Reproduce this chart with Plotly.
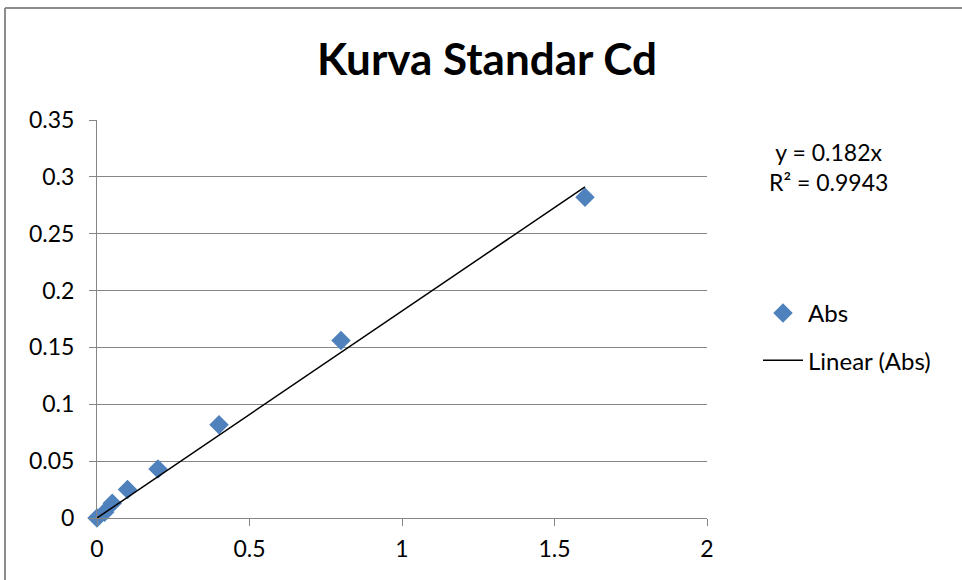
import plotly.graph_objects as go

conc = [0, 0.025, 0.05, 0.1, 0.2, 0.4, 0.8, 1.6]
absorb = [0, 0.005, 0.013, 0.025, 0.043, 0.082, 0.156, 0.282]
slope = 0.182
fit_x = [0, 1.6]
fit_y = [slope * v for v in fit_x]
x_ticks = [0, 0.5, 1, 1.5, 2]
x_labels = ["0", "0.5", "1", "1.5", "2"]
y_ticks = [0, 0.05, 0.1, 0.15, 0.2, 0.25, 0.3, 0.35]
y_labels = ["0", "0.05", "0.1", "0.15", "0.2", "0.25", "0.3", "0.35"]

FONT = "Lato, Carlito, 'Liberation Sans', sans-serif"
GRID = "#868686"

fig = go.Figure()
fig.add_trace(go.Scatter(
    x=conc, y=absorb, mode="markers", name="Abs", legendgroup="a",
    marker=dict(symbol="diamond", size=15, color="#4F81BD"),
    cliponaxis=False,
))
fig.add_trace(go.Scatter(
    x=fit_x, y=fit_y, mode="lines", name="Linear (Abs)", legendgroup="b",
    line=dict(color="black", width=1.5),
))

fig.update_layout(
    width=962, height=580,
    margin=dict(l=97, r=255, t=120, b=62, autoexpand=False),
    paper_bgcolor="white", plot_bgcolor="white",
    font=dict(family=FONT, size=23, color="black"),
    title=dict(text="<b>Kurva Standar Cd</b>", x=487 / 962, xanchor="center",
               y=1 - 60 / 580, yanchor="middle",
               font=dict(size=44, family=FONT, color="black")),
    xaxis=dict(range=[0, 2], tickvals=x_ticks, ticktext=x_labels,
               showgrid=False, zeroline=False, showline=True,
               linecolor=GRID, linewidth=1, ticks="outside", ticklen=7,
               tickcolor=GRID, tickfont=dict(size=23), ticklabelstandoff=3),
    yaxis=dict(range=[0, 0.35], tickvals=y_ticks, ticktext=y_labels,
               showgrid=True, gridcolor=GRID, gridwidth=1, zeroline=False,
               showline=True, linecolor=GRID, linewidth=1, ticks="outside",
               ticklen=7, tickcolor=GRID, tickfont=dict(size=23),
               ticklabelstandoff=10),
    legend=dict(x=(758 - 97) / 610, xref="paper", y=(518 - 291) / 398, yref="paper",
                xanchor="left", yanchor="top", font=dict(size=24),
                bgcolor="rgba(0,0,0,0)", tracegroupgap=13, itemwidth=40),
    showlegend=True,
)

fig.add_annotation(text="y = 0.182x<br>R² = 0.9943", xref="paper", yref="paper",
                   x=(828 - 97) / 610, y=(518 - 167) / 398, xanchor="center",
                   yanchor="middle", showarrow=False, align="center",
                   font=dict(size=23, family=FONT, color="black"))

# outer chart border
fig.add_shape(type="line", xref="paper", yref="paper",
              x0=(5 - 97) / 610, x1=(962 - 97) / 610 + 0.1,
              y0=(518 - 8) / 398, y1=(518 - 8) / 398,
              line=dict(color="#8c8c8c", width=2))
fig.add_shape(type="line", xref="paper", yref="paper",
              x0=(5 - 97) / 610, x1=(5 - 97) / 610,
              y0=(518 - 8) / 398, y1=-0.3,
              line=dict(color="#8c8c8c", width=2))

fig.write_html("out.html", config={"displayModeBar": False},
               post_script="document.body.style.margin='0px';")
